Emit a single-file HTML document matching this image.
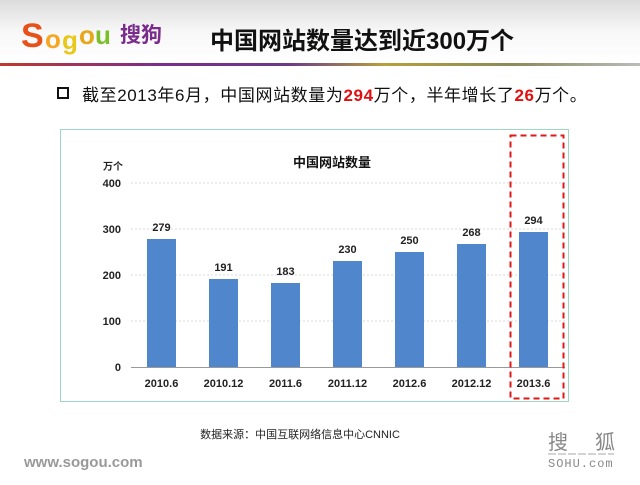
<!DOCTYPE html>
<html><head><meta charset="utf-8"><style>
body{margin:0;width:640px;height:480px;overflow:hidden;background:#fff;font-family:"Liberation Sans","Noto Sans CJK SC",sans-serif;}
</style></head><body>
<svg width="640" height="480" viewBox="0 0 640 480" xmlns="http://www.w3.org/2000/svg" font-family="Liberation Sans, Noto Sans CJK SC, sans-serif">
<defs>
<linearGradient id="hd" x1="0" y1="0" x2="0" y2="1"><stop offset="0" stop-color="#dcdcdc"/><stop offset="0.5" stop-color="#f7f7f7"/><stop offset="1" stop-color="#ffffff"/></linearGradient>
<linearGradient id="rb" x1="0" y1="0" x2="1" y2="0"><stop offset="0" stop-color="#c0392b"/><stop offset="0.25" stop-color="#7b2d8e"/><stop offset="0.45" stop-color="#6a3a8a"/><stop offset="0.6" stop-color="#b8a03a"/><stop offset="0.8" stop-color="#8a8a5a"/><stop offset="1" stop-color="#bbbbbb"/></linearGradient>
</defs>
<rect x="0" y="0" width="640" height="62" fill="url(#hd)"/>
<rect x="0" y="63" width="640" height="3" fill="url(#rb)"/>
<text x="21" y="47" font-size="34" font-weight="bold" fill="#e8501a">S</text>
<text x="45" y="48" font-size="26" font-weight="bold" fill="#f5a623">o</text>
<text x="62" y="49" font-size="26" font-weight="bold" fill="#e8c81a">g</text>
<text x="79" y="44" font-size="26" font-weight="bold" fill="#e6a817">o</text>
<text x="95" y="44" font-size="26" font-weight="bold" fill="#7cbf2a">u</text>
<text x="120" y="42" font-size="21" font-weight="bold" fill="#7a2c8c" font-family="Noto Sans CJK SC, sans-serif">搜狗</text>
<text x="210" y="49" font-size="24" font-weight="bold" fill="#111">中国网站数量达到近300万个</text>
<rect x="58" y="88" width="10" height="10" fill="none" stroke="#111" stroke-width="2"/>
<text x="82" y="101" font-size="17" fill="#111" letter-spacing="0.6">截至2013年6月，中国网站数量为<tspan fill="#e01010" font-weight="bold">294</tspan>万个，半年增长了<tspan fill="#e01010" font-weight="bold">26</tspan>万个。</text>
<rect x="60.5" y="129.5" width="508" height="272" fill="#fff" stroke="#9fd8c0" stroke-width="1"/>
<g stroke="#d8d8d8" stroke-dasharray="2,2" stroke-width="1">
<line x1="131" y1="183" x2="565" y2="183"/><line x1="131" y1="229" x2="565" y2="229"/><line x1="131" y1="275" x2="565" y2="275"/><line x1="131" y1="321" x2="565" y2="321"/>
</g>
<line x1="131" y1="367.5" x2="565" y2="367.5" stroke="#999"/>
<g font-size="11" font-weight="bold" fill="#222" text-anchor="end">
<text x="121" y="187">400</text><text x="121" y="233">300</text><text x="121" y="279">200</text><text x="121" y="325">100</text><text x="121" y="371">0</text>
</g>
<text x="103" y="170" font-size="10" font-weight="bold" fill="#222">万个</text>
<text x="332" y="167" font-size="13" font-weight="bold" fill="#111" text-anchor="middle">中国网站数量</text>
<g fill="#4f86cc">
<rect x="147" y="239" width="29" height="128"/>
<rect x="209" y="279" width="29" height="88"/>
<rect x="271" y="283" width="29" height="84"/>
<rect x="333" y="261" width="29" height="106"/>
<rect x="395" y="252" width="29" height="115"/>
<rect x="457" y="244" width="29" height="123"/>
<rect x="519" y="232" width="29" height="135"/>
</g>
<g font-size="11" font-weight="bold" fill="#222" text-anchor="middle">
<text x="161.5" y="231">279</text><text x="223.5" y="271">191</text><text x="285.5" y="275">183</text><text x="347.5" y="253">230</text><text x="409.5" y="244">250</text><text x="471.5" y="236">268</text><text x="533.5" y="224">294</text>
<text x="161.5" y="387">2010.6</text><text x="223.5" y="387">2010.12</text><text x="285.5" y="387">2011.6</text><text x="347.5" y="387">2011.12</text><text x="409.5" y="387">2012.6</text><text x="471.5" y="387">2012.12</text><text x="533.5" y="387">2013.6</text>
</g>
<rect x="510.5" y="135.5" width="53" height="263" fill="none" stroke="#e01818" stroke-width="2" stroke-dasharray="6,4"/>
<text x="300" y="438" font-size="11" fill="#222" text-anchor="middle">数据来源：中国互联网络信息中心CNNIC</text>
<text x="24" y="467" font-size="15" font-weight="bold" fill="#999">www.sogou.com</text>
<text x="548" y="449" font-size="20" fill="#888" letter-spacing="27">搜狐</text>
<line x1="548" y1="454" x2="614" y2="454" stroke="#aaa" stroke-dasharray="8,2"/>
<text x="548" y="467" font-size="12" fill="#888" font-family="Liberation Mono, monospace" letter-spacing="1">SOHU.com</text>
</svg>
</body></html>
